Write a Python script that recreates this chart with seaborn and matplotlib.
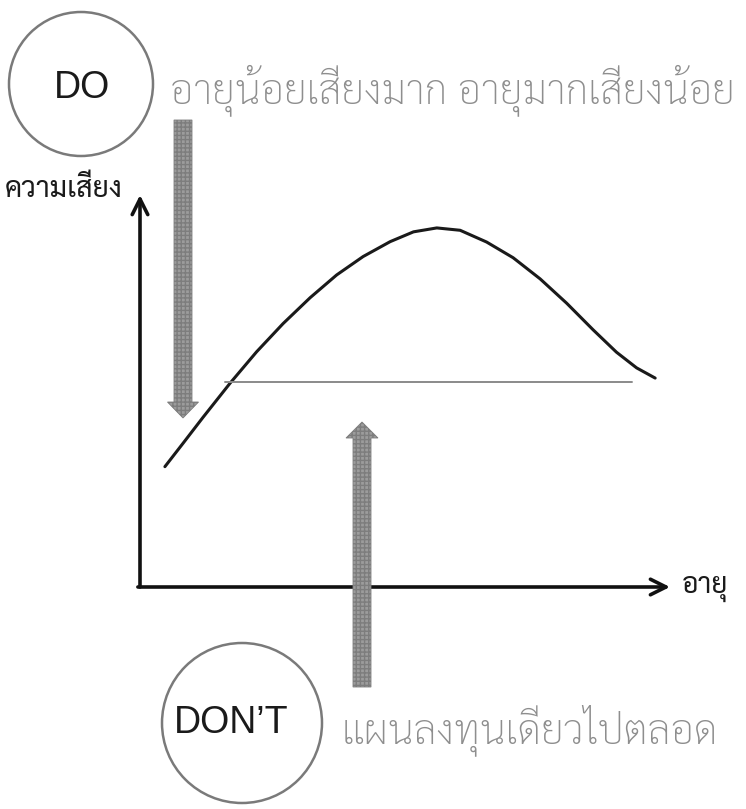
import matplotlib
matplotlib.use('Agg')
import matplotlib.pyplot as plt
from matplotlib import font_manager
from matplotlib.patches import Circle, FancyArrow, FancyArrowPatch
import pandas as pd
import seaborn as sns

# risk curve (age 0-100, risk 0-100)
age = [4.7, 8.2, 11.9, 17.0, 22.0, 27.0, 32.1, 37.1, 42.1, 47.2, 51.6,
       56.0, 60.4, 65.4, 70.4, 75.5, 80.5, 85.5, 89.9, 93.7, 97.2]
risk = [30.7, 36.8, 43.3, 52.0, 60.0, 67.2, 73.8, 79.6, 84.3, 88.1, 90.6,
        91.6, 91.0, 88.0, 84.0, 78.6, 72.4, 65.6, 59.9, 55.9, 53.3]
# flat plan line
flat_age = [16.0, 92.8]
flat_risk = [52.3, 52.3]

label_do = 'DO'
label_dont = 'DON’T'
text_do = 'อายุน้อยเสี่ยงมาก อายุมากเสี่ยงน้อย'
text_dont = 'แผนลงทุนเดียวไปตลอด'
ylabel = 'ความเสี่ยง'
xlabel = 'อายุ'

sns.set_style('white')
names = {f.name for f in font_manager.fontManager.ttflist}
thai = next((n for n in ['Sarabun', 'Noto Sans Thai Looped', 'Noto Sans Thai',
                         'Athiti', 'Anuphan'] if n in names), 'DejaVu Sans')
plt.rcParams['font.family'] = [thai, 'Liberation Sans', 'DejaVu Sans']

W, H = 746, 809
fig = plt.figure(figsize=(W / 100, H / 100), dpi=100)
renderer = fig.canvas.get_renderer()

# main chart axes, origin at the axis corner
ax = fig.add_axes([140 / W, (H - 587) / H, 530 / W, 392 / H])
ax.set_xlim(0, 100)
ax.set_ylim(0, 100)
ax.axis('off')

curve = pd.DataFrame({'age': age, 'risk': risk})
flat = pd.DataFrame({'age': flat_age, 'risk': flat_risk})
sns.lineplot(data=curve, x='age', y='risk', ax=ax, color='#1a1a1a', lw=2.2,
             sort=False, estimator=None, solid_joinstyle='round')
sns.lineplot(data=flat, x='age', y='risk', ax=ax, color='#8a8a8a', lw=1.4,
             estimator=None)

# axis arrows
for start, end in [((0, 0), (0, 1.0)), ((-0.004, 0), (1.0, 0))]:
    ax.add_patch(FancyArrowPatch(start, end, transform=ax.transAxes,
                                 arrowstyle='->', lw=2.6, color='#111111',
                                 mutation_scale=28, shrinkA=0, shrinkB=0,
                                 clip_on=False))

# overlay in pixel units for the callouts
ov = fig.add_axes([0, 0, 1, 1])
ov.set_xlim(0, W)
ov.set_ylim(H, 0)
ov.axis('off')
ov.patch.set_alpha(0)

for cx, cy, r in [(81, 84, 72), (242, 723, 80)]:
    ov.add_patch(Circle((cx, cy), r, fill=False, ec='#7a7a7a', lw=1.8))

gray = dict(fc='#9c9c9c', ec='#7d7d7d', hatch='++++', lw=0.6)
ov.add_patch(FancyArrow(183, 120, 0, 298, width=18, head_width=31,
                        head_length=16, length_includes_head=True, **gray))
ov.add_patch(FancyArrow(362, 687, 0, -265, width=18, head_width=32,
                        head_length=16, length_includes_head=True, **gray))

ov.text(82, 88, label_do, ha='center', va='center', fontsize=27,
        family=['Liberation Sans', 'DejaVu Sans'], color='#1a1a1a')
ov.text(231, 723, label_dont, ha='center', va='center', fontsize=27,
        family=['Liberation Sans', 'DejaVu Sans'], color='#1a1a1a')

t1 = ov.text(170, 103, text_do, ha='left', va='baseline', fontsize=26,
             color='#8e8e8e', fontweight='light')
t2 = ov.text(342, 743, text_dont, ha='left', va='baseline', fontsize=26,
             color='#8e8e8e', fontweight='light')
t3 = ov.text(5, 197, ylabel, ha='left', va='baseline', fontsize=15,
             color='#1a1a1a')
t4 = ov.text(682, 593, xlabel, ha='left', va='baseline', fontsize=15,
             color='#1a1a1a')

# scale the Thai texts to the widths they take in the picture
for t, width in [(t1, 565), (t2, 377), (t3, 117), (t4, 46)]:
    w = t.get_window_extent(renderer).width
    t.set_fontsize(t.get_fontsize() * width / w)

fig.savefig('out.png', dpi=100)
